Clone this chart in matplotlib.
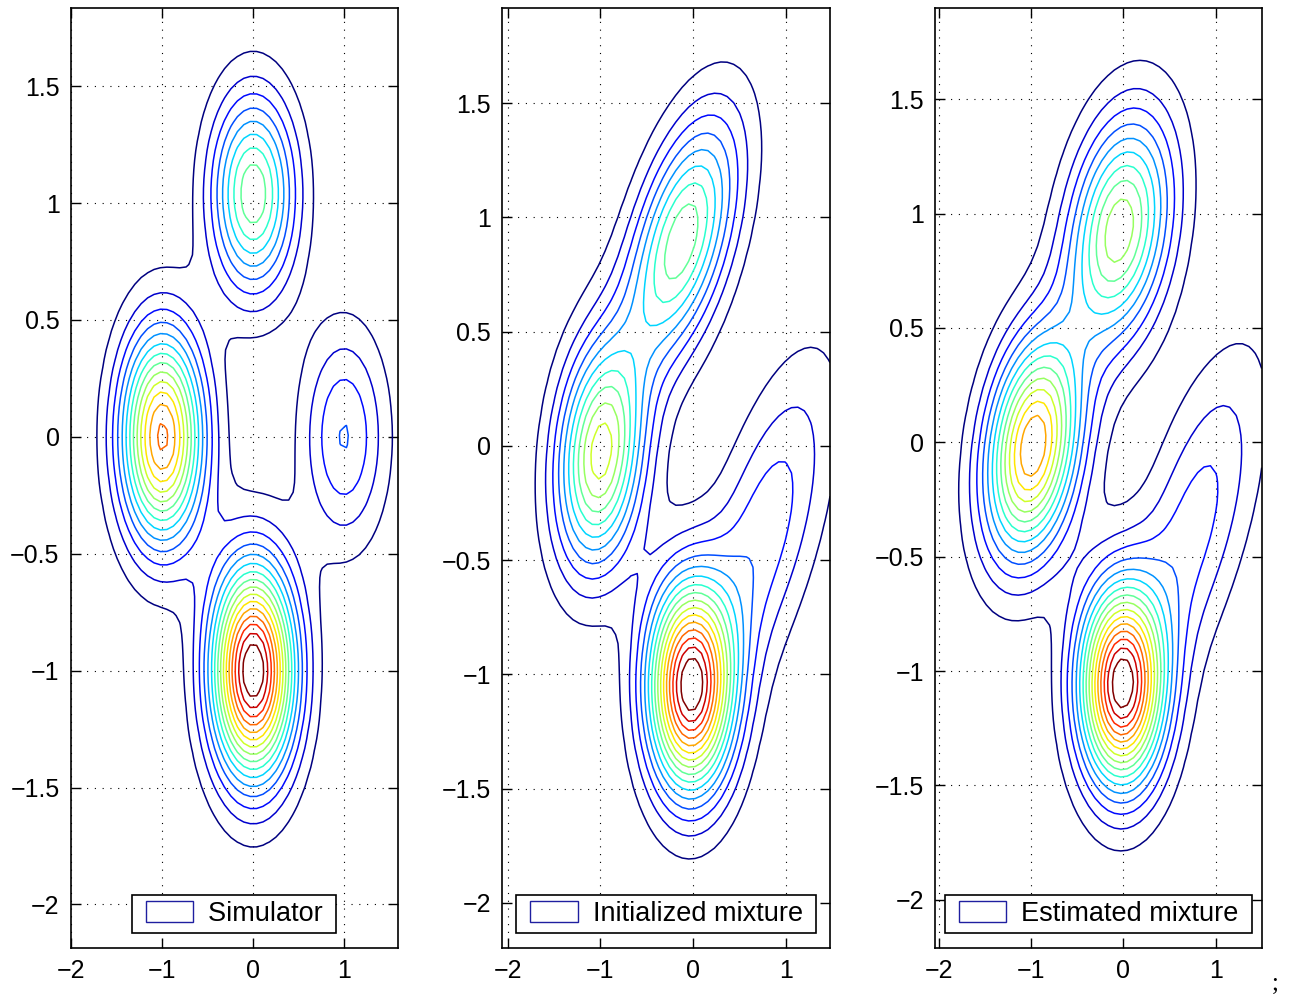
import numpy as np
import matplotlib
matplotlib.use('Agg')
import matplotlib.pyplot as plt
from matplotlib.patches import Patch, Rectangle
from matplotlib.legend_handler import HandlerPatch
from matplotlib.ticker import FuncFormatter

plt.rcParams['font.family'] = ['Liberation Sans', 'DejaVu Sans']

# ---- mixture parameters ----
# covariance given as (sxx, syy, sxy)
# simulator (4 isotropic components)
sim_w = [0.40, 0.31, 0.19, 0.095]
sim_mu = [(0.0, -1.0), (-1.0, 0.0), (0.0, 1.04), (1.0, 0.0)]
sim_cov = [(0.10, 0.10, 0.0), (0.10, 0.10, 0.0), (0.10, 0.085, 0.0), (0.10, 0.10, 0.0)]

# initialized mixture
ini_w = [0.346, 0.245, 0.250, 0.160]
ini_mu = [(-0.03, -1.05), (-1.0, -0.04), (-0.12, 0.90), (0.75, -0.40)]
ini_cov = [(0.100, 0.100, 0.0), (0.105, 0.118, 0.020), (0.170, 0.140, 0.080), (0.256, 0.264, 0.166)]

# estimated mixture
est_w = [0.314, 0.302, 0.256, 0.142]
est_mu = [(-0.02, -1.06), (-0.98, -0.02), (-0.04, 0.93), (0.75, -0.38)]
est_cov = [(0.100, 0.092, 0.0), (0.125, 0.112, 0.030), (0.150, 0.120, 0.036), (0.256, 0.264, 0.166)]

labels = ['Simulator', 'Initialized mixture', 'Estimated mixture']
xlims = [(-2.008, 1.589), (-2.057, 1.478), (-2.039, 1.499)]
ylims = [(-2.185, 1.833), (-2.196, 1.915), (-2.209, 1.897)]
n_levels = 16


def mixture(X, Y, w, mu, cov):
    Z = np.zeros_like(X)
    for wk, (mx, my), (sxx, syy, sxy) in zip(w, mu, cov):
        det = sxx * syy - sxy ** 2
        dx = X - mx
        dy = Y - my
        q = (syy * dx ** 2 - 2 * sxy * dx * dy + sxx * dy ** 2) / det
        Z += wk * np.exp(-0.5 * q) / (2 * np.pi * np.sqrt(det))
    return Z


def minus_fmt(v, pos):
    return ('%g' % v).replace('-', '\u2212')


def box_patch(legend, orig_handle, xdescent, ydescent, width, height, fontsize):
    # leave some room on the left of the legend key
    pad = 0.3 * fontsize
    return Rectangle((-xdescent + pad, -ydescent), width - pad, height)


fig = plt.figure(figsize=(12.92, 9.94), dpi=100)
lefts = [70.7, 502.3, 935.0]
widths = [327.0, 327.7, 326.7]
params = [(sim_w, sim_mu, sim_cov), (ini_w, ini_mu, ini_cov), (est_w, est_mu, est_cov)]

for i in range(3):
    ax = fig.add_axes([lefts[i] / 1292., 1 - 947.7 / 994., widths[i] / 1292., 939.4 / 994.])
    x = np.linspace(xlims[i][0], xlims[i][1], 52)
    y = np.linspace(ylims[i][0], ylims[i][1], 100)
    X, Y = np.meshgrid(x, y)
    Z = mixture(X, Y, *params[i])
    lev = np.linspace(Z.min(), Z.max(), n_levels + 2)[1:-1]
    ax.contour(X, Y, Z, levels=lev, cmap='jet', linewidths=1.1)
    ax.set_xlim(xlims[i])
    ax.set_ylim(ylims[i])
    ax.set_xticks([-2, -1, 0, 1])
    ax.set_yticks(np.arange(-2, 1.6, 0.5))
    ax.xaxis.set_major_formatter(FuncFormatter(minus_fmt))
    ax.yaxis.set_major_formatter(FuncFormatter(minus_fmt))
    ax.grid(True, color='black', linestyle=(0, (1, 6)), linewidth=0.8)
    ax.tick_params(direction='in', top=True, right=True, length=7, width=1.0,
                   labelsize=18, pad=8)
    for s in ax.spines.values():
        s.set_linewidth(1.2)
    h = Patch(facecolor='none', edgecolor='#1f1fa0', linewidth=1.0)
    leg = ax.legend([h], [labels[i] + ' '], loc='lower center', bbox_to_anchor=(0.5, 0.016),
                    borderaxespad=0, fontsize=19.5, fancybox=False, framealpha=1,
                    edgecolor='black', handlelength=2.05, handleheight=0.85,
                    handletextpad=0.55, borderpad=0.22,
                    handler_map={Patch: HandlerPatch(patch_func=box_patch)})
    leg.get_frame().set_linewidth(1.2)

fig.text(1272 / 1292., 1 - 990 / 994., ';', fontsize=18, family='Liberation Serif')
fig.savefig('out.png', dpi=100)
